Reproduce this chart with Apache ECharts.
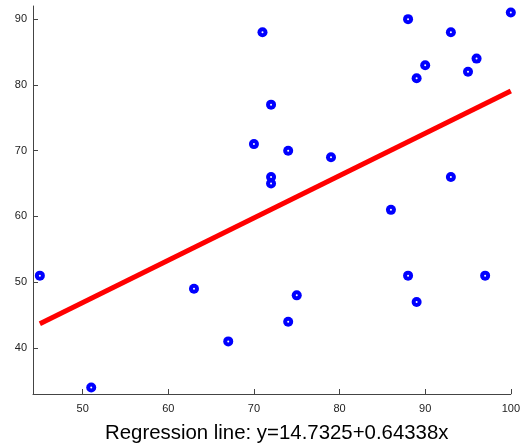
<!DOCTYPE html>
<html>
<head>
<meta charset="utf-8">
<script src="https://cdn.jsdelivr.net/npm/echarts@6/dist/echarts.min.js"></script>
<style>
  html, body { margin: 0; padding: 0; background: #fff; }
  #main { width: 523px; height: 446px; }
</style>
</head>
<body>
<div id="main"></div>
<script>
// observed points
var pointsX = [45, 51, 63, 67, 70, 71, 72, 72, 72, 74, 74, 75, 79, 86, 88, 88, 89, 89, 90, 93, 93, 95, 96, 97, 100];
var pointsY = [51, 34, 49, 41, 71, 88, 77, 66, 65, 70, 44, 48, 69, 61, 90, 51, 81, 47, 83, 88, 66, 82, 84, 51, 91];

// regression line end points
var lineX = [45, 100];
var lineY = [43.68, 79.07];

var xTicks = [50, 60, 70, 80, 90, 100];
var yTicks = [40, 50, 60, 70, 80, 90];

var titleText = "Regression line: y=14.7325+0.64338x";

var points = pointsX.map(function (x, i) { return [x, pointsY[i]]; });
var line = lineX.map(function (x, i) { return [x, lineY[i]]; });

var chart = echarts.init(document.getElementById("main"));

function makeAxis(min, max, ticks, margin) {
  return {
    type: "value",
    min: min,
    max: max,
    axisLine: { show: true, lineStyle: { color: "#444", width: 1 } },
    axisTick: {
      show: true, inside: true, length: 5,
      customValues: ticks,
      lineStyle: { color: "#444" }
    },
    splitLine: { show: false },
    axisLabel: {
      color: "#222",
      fontSize: 11,
      margin: margin,
      fontFamily: "Liberation Sans, Arial, sans-serif",
      customValues: ticks,
      showMinLabel: true,
      showMaxLabel: true,
      hideOverlap: false
    }
  };
}

var option = {
  animation: false,
  title: {
    text: titleText,
    left: 105,
    top: 423,
    padding: 0,
    textStyle: {
      fontSize: 20.4,
      fontWeight: "normal",
      color: "#000",
      fontFamily: "Liberation Sans, Arial, sans-serif"
    }
  },
  grid: { left: 33, right: 7, top: 6, bottom: 52 },
  xAxis: makeAxis(44.2, 100, xTicks, 9),
  yAxis: makeAxis(33, 92, yTicks, 6),
  series: [
    {
      type: "scatter",
      data: points,
      symbol: "circle",
      symbolSize: 10,
      itemStyle: { color: "#0000ff", opacity: 1 },
      z: 2
    },
    {
      type: "scatter",
      data: points,
      symbol: "circle",
      symbolSize: 2,
      itemStyle: { color: "#ffffff", opacity: 1 },
      silent: true,
      z: 3
    },
    {
      type: "line",
      data: line,
      symbol: "none",
      lineStyle: { color: "#ff0000", width: 5 },
      z: 4
    }
  ]
};

chart.setOption(option);
</script>
</body>
</html>
